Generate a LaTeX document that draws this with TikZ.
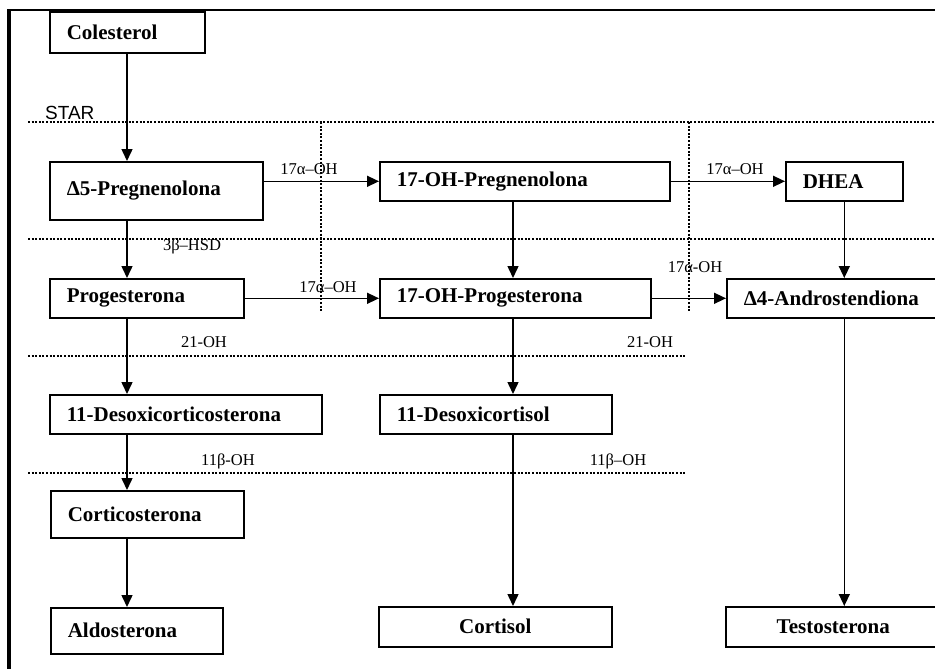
\documentclass[tikz,border=0pt]{standalone}
\usepackage{fontspec}
\setmainfont{Liberation Serif}
\newfontfamily\starfont{Liberation Sans}
\usetikzlibrary{arrows.meta}
\tikzset{
  box/.style={draw, line width=1.6pt, anchor=north west, inner xsep=17pt, inner ysep=0pt,
    align=left, font=\bfseries\fontsize{21}{24}\selectfont},
  cbox/.style={box, align=center},
  arr/.style={line width=1.5pt, -{Triangle[length=12pt,width=11pt]}},
  lbl/.style={anchor=base, inner sep=0pt, font=\fontsize{16.5}{18}\selectfont},
  dots/.style={line width=2.2pt, dash pattern=on 2pt off 1.6pt}
}
\begin{document}
\begin{tikzpicture}[x=1pt,y=-1pt]
\useasboundingbox (0,0) rectangle (935,669);
% frame
\draw[line width=3.2pt] (9,669) -- (9,10);
\draw[line width=2.4pt] (7.4,10) -- (935,10);
% dotted separators
\draw[dots] (28,122) -- (935,122);
\draw[dots] (28,239) -- (935,239);
\draw[dots] (28,356) -- (685,356);
\draw[dots] (28,473) -- (685,473);
\draw[dots] (321,122) -- (321,312);
\draw[dots] (689,122) -- (689,312);
% boxes
\node[box, text width=121pt, minimum height=41pt] (col) at (49,11) {Colesterol};
\node[box, text width=179pt, minimum height=58pt] (preg) at (49,161) {Δ5-Pregnenolona};
\node[box, text width=256pt, minimum height=39pt] (ohpreg) at (379,161) {17-OH-Pregnenolona};
\node[box, text width=83pt, minimum height=39pt] (dhea) at (785,161) {DHEA};
\node[box, text width=160pt, minimum height=39pt] (prog) at (49,278) {Progesterona};
\node[box, text width=237pt, minimum height=39pt] (ohprog) at (379,278) {17-OH-Progesterona};
\node[box, text width=200pt, minimum height=39pt] (andro) at (726,278) {Δ4-Androstendiona};
\node[box, text width=238pt, minimum height=39pt] (doc) at (49,394) {11-Desoxicorticosterona};
\node[box, text width=198pt, minimum height=39pt] (dcort) at (379,394) {11-Desoxicortisol};
\node[box, text width=159pt, minimum height=47pt] (cortico) at (50,490) {Corticosterona};
\node[box, text width=138pt, minimum height=46pt] (aldo) at (50,607) {Aldosterona};
\node[cbox, text width=199pt, minimum height=40pt] (cortisol) at (378,606) {Cortisol};
\node[cbox, text width=181pt, minimum height=40pt] (testo) at (725,606) {Testosterona};
% vertical arrows
\coordinate (lx) at (127,0);
\coordinate (mx) at (513,0);
\draw[arr] (col.south -| lx) -- (preg.north -| lx);
\draw[arr] (preg.south -| lx) -- (prog.north -| lx);
\draw[arr] (prog.south -| lx) -- (doc.north -| lx);
\draw[arr] (doc.south -| lx) -- (cortico.north -| lx);
\draw[arr] (cortico.south -| lx) -- (aldo.north -| lx);
\draw[arr] (ohpreg.south -| mx) -- (ohprog.north -| mx);
\draw[arr] (ohprog.south -| mx) -- (dcort.north -| mx);
\draw[arr] (dcort.south -| mx) -- (cortisol.north -| mx);
\draw[arr] (dhea.south) -- (andro.north -| dhea.south);
\draw[arr] (andro.south -| dhea.south) -- (testo.north -| dhea.south);
% horizontal arrows
\draw[arr] (preg.east |- ohpreg.west) -- (ohpreg.west);
\draw[arr] (ohpreg.east) -- (dhea.west);
\draw[arr] (prog.east) -- (ohprog.west);
\draw[arr] (ohprog.east) -- (andro.west);
% labels
\node[anchor=base west, inner sep=0pt, font=\starfont\fontsize{19}{21}\selectfont] (star) at (45,119) {STAR};
\node[lbl] (l1) at (309,174) {17α–OH};
\node[lbl] (l2) at (735,174) {17α–OH};
\node[lbl] (l3) at (192,250) {3β–HSD};
\node[lbl] (l4) at (328,292) {17α–OH};
\node[lbl] (l5) at (695,272) {17α-OH};
\node[lbl] (l6) at (204,347) {21-OH};
\node[lbl] (l7) at (650,347) {21-OH};
\node[lbl] (l8) at (228,465) {11β-OH};
\node[lbl] (l9) at (618,465) {11β–OH};
\end{tikzpicture}
\end{document}
